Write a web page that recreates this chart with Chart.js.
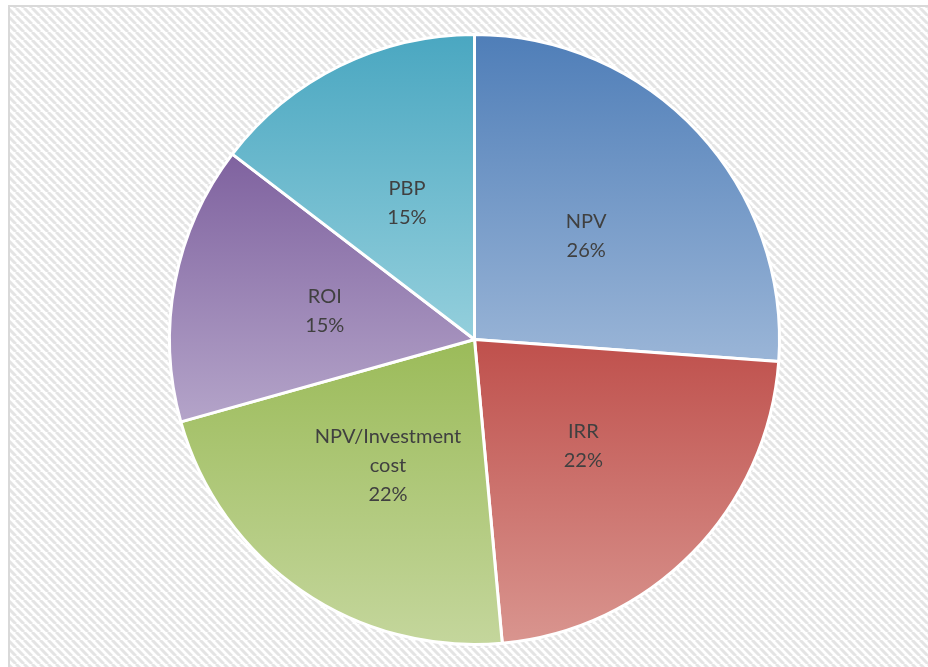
<!DOCTYPE html>
<html>
<head>
<meta charset="utf-8">
<script src="https://cdn.jsdelivr.net/npm/chart.js@4"></script>
<style>
  body { margin: 0; background: #fff; }
  canvas { display: block; }
</style>
</head>
<body>
<canvas id="pie" width="928" height="667"></canvas>
<script>
// data (slice angles estimated, labels show rounded %)
const labels = ["NPV", "IRR", "NPV/Investment cost", "ROI", "PBP"];
const shares = [26.15, 22.4, 22.1, 14.75, 14.6];
const labelLines = [["NPV"], ["IRR"], ["NPV/Investment", "cost"], ["ROI"], ["PBP"]];

// gradient colours, top of slice -> bottom of slice
const topColors = ["#4f7eb8", "#bf504c", "#9bbb59", "#7f629f", "#4aa7c1"];
const bottomColors = ["#9ab5d7", "#d9958f", "#c4d69c", "#b4a4c9", "#94cfdc"];

const BORDER = 3;

function sliceFill(c) {
    const chart = c.chart;
    const area = chart.chartArea;
    const i = c.dataIndex;
    if (!area || i === undefined) return topColors[i || 0];
    const cx = (area.left + area.right) / 2;
    const cy = (area.top + area.bottom) / 2;
    const r = (Math.min(area.width, area.height) - BORDER) / 2;
    const total = shares.reduce((a, b) => a + b, 0);
    let before = 0;
    for (let k = 0; k < i; k++) before += shares[k];
    const a0 = -Math.PI / 2 + before / total * 2 * Math.PI;
    const a1 = a0 + shares[i] / total * 2 * Math.PI;
    const ys = [cy, cy + r * Math.sin(a0), cy + r * Math.sin(a1)];
    for (let q = Math.ceil(a0 / (Math.PI / 2)); q * Math.PI / 2 <= a1; q++) {
        ys.push(cy + r * Math.sin(q * Math.PI / 2));
    }
    const g = chart.ctx.createLinearGradient(0, Math.min(...ys), 0, Math.max(...ys));
    g.addColorStop(0, topColors[i]);
    g.addColorStop(1, bottomColors[i]);
    return g;
}

// hatched background with a light frame
const backdrop = {
    id: "backdrop",
    beforeDraw(chart) {
        const ctx = chart.ctx;
        const w = chart.width, h = chart.height;
        ctx.save();
        ctx.fillStyle = "#ffffff";
        ctx.fillRect(0, 0, w, h);
        const tile = document.createElement("canvas");
        tile.width = 8;
        tile.height = 8;
        const t = tile.getContext("2d");
        t.strokeStyle = "#e4e4e4";
        t.lineWidth = 3;
        t.beginPath();
        for (let o = -8; o <= 8; o += 8) {
            t.moveTo(o, 0);
            t.lineTo(o + 8, 8);
        }
        t.stroke();
        ctx.fillStyle = ctx.createPattern(tile, "repeat");
        ctx.fillRect(10, 7, w - 10, h - 7);
        ctx.strokeStyle = "#d9d9d9";
        ctx.lineWidth = 2;
        ctx.strokeRect(9, 6, w + 20, h + 20);
        ctx.restore();
    }
};

// category name + percentage inside each slice
const sliceLabels = {
    id: "sliceLabels",
    afterDatasetsDraw(chart) {
        const ctx = chart.ctx;
        const total = shares.reduce((a, b) => a + b, 0);
        const lineH = 29;
        ctx.save();
        ctx.font = "20px Lato, 'Open Sans', sans-serif";
        ctx.fillStyle = "#404040";
        ctx.textAlign = "center";
        ctx.textBaseline = "middle";
        chart.getDatasetMeta(0).data.forEach((arc, i) => {
            const pos = arc.tooltipPosition();
            const lines = labelLines[i].concat(Math.round(shares[i] / total * 100) + "%");
            const y0 = pos.y - (lines.length - 1) * lineH / 2;
            lines.forEach((s, k) => ctx.fillText(s, pos.x, y0 + k * lineH));
        });
        ctx.restore();
    }
};

new Chart(document.getElementById("pie").getContext("2d"), {
    type: "pie",
    data: {
        labels: labels,
        datasets: [{
            data: shares,
            backgroundColor: sliceFill,
            borderColor: "#ffffff",
            borderWidth: BORDER
        }]
    },
    options: {
        responsive: false,
        animation: false,
        layout: { padding: { left: 168, right: 147, top: 33, bottom: 21 } },
        plugins: {
            legend: { display: false },
            tooltip: { enabled: false }
        }
    },
    plugins: [backdrop, sliceLabels]
});
</script>
</body>
</html>
